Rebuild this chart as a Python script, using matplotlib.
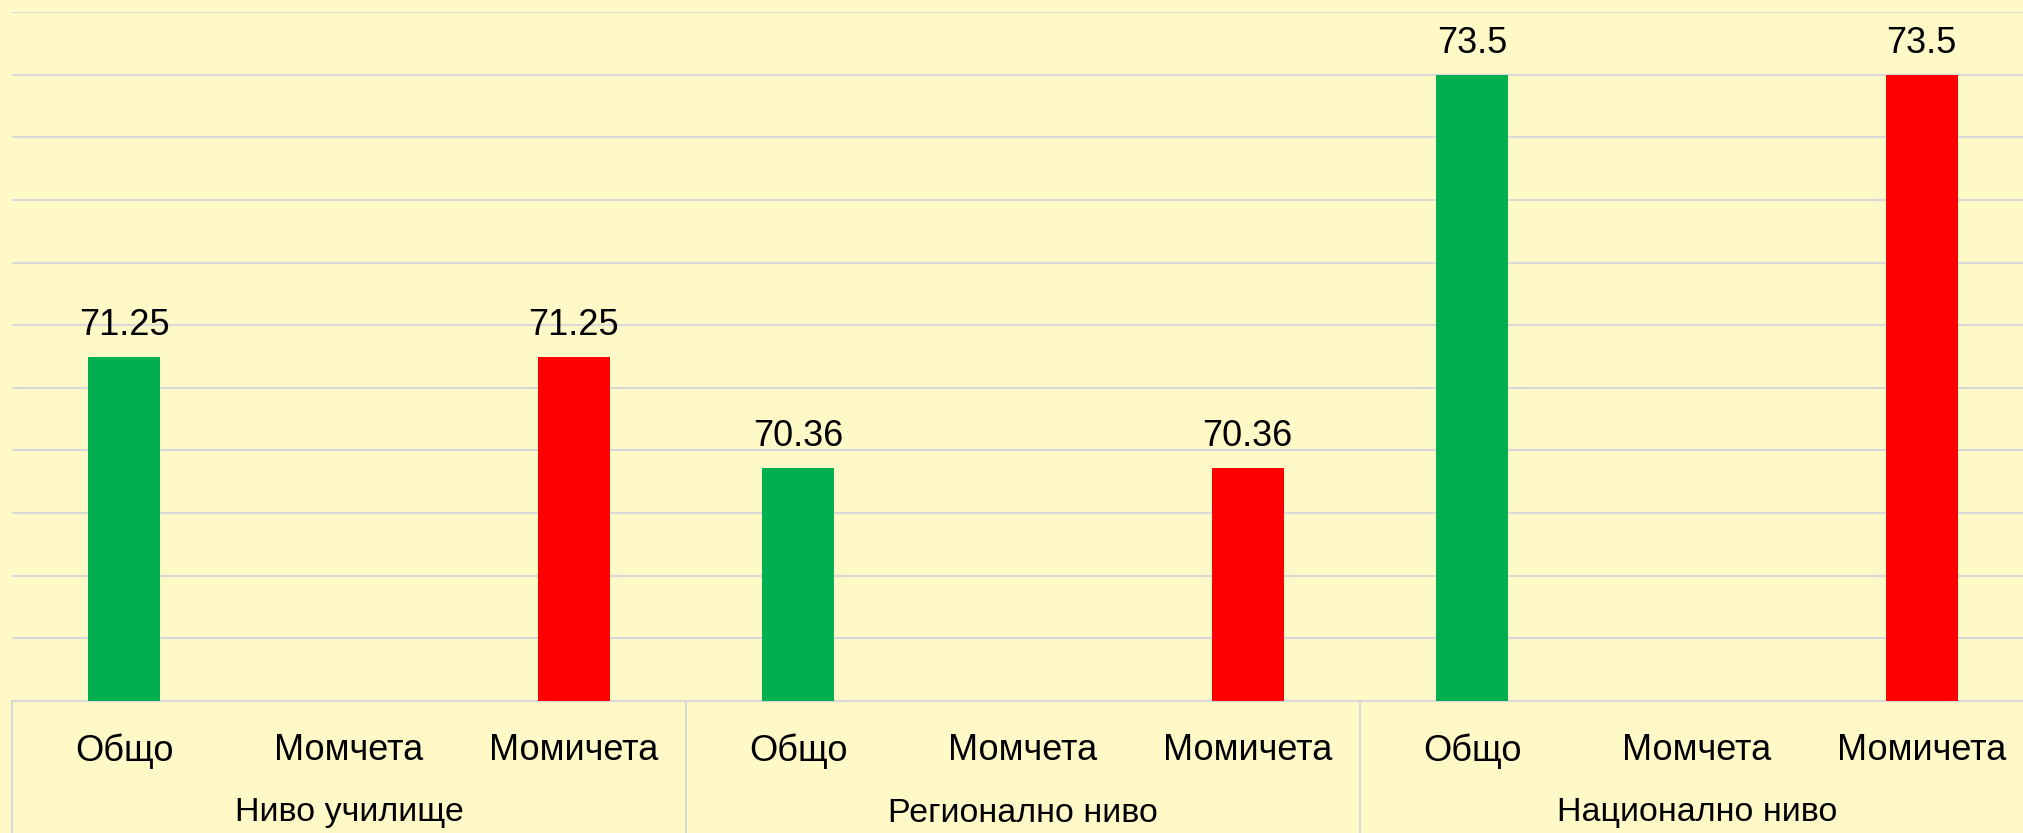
import matplotlib
matplotlib.use("Agg")
import matplotlib.pyplot as plt
import matplotlib.transforms as mtransforms
from matplotlib.lines import Line2D
import numpy as np

groups = ["Ниво училище", "Регионално ниво", "Национално ниво"]
subcats = ["Общо", "Момчета", "Момичета"]
obshto = [71.25, 70.36, 73.5]
momcheta = [np.nan, np.nan, np.nan]
momicheta = [71.25, 70.36, 73.5]
sub_colors = ["#00B050", "#4472C4", "#FF0000"]

plt.rcParams['font.family'] = ['Liberation Sans', 'DejaVu Sans']

W, H = 2024, 833
fig = plt.figure(figsize=(W / 100, H / 100), dpi=100)
bg = "#FFF9C8"
fig.patch.set_facecolor(bg)

left, right, top, base = 12, 2034, 12, 701
ax = fig.add_axes([left / W, (H - base) / H, (right - left) / W, (base - top) / H])
ax.set_facecolor(bg)

values, labels, colors = [], [], []
for g in range(len(groups)):
    for s, series in enumerate([obshto, momcheta, momicheta]):
        values.append(series[g])
        labels.append(subcats[s])
        colors.append(sub_colors[s])
x = np.arange(len(values))
ax.bar(x, values, width=0.32, color=colors, zorder=3)

for xi, v in zip(x, values):
    if not np.isnan(v):
        ax.annotate(f"{v:g}", (xi, v), xytext=(0, 10), textcoords="offset points",
                    ha="center", va="bottom", fontsize=26, color="black", zorder=4)

ax.set_xlim(-0.5, len(values) - 0.5)
ax.set_ylim(68.5, 74)
ax.set_yticks(np.arange(68.5, 74.01, 0.5))
ax.yaxis.set_ticklabels([])
ax.tick_params(axis="y", length=0)
ax.grid(axis="y", color="#D9D9D9", linewidth=1.5, zorder=0)
ax.set_axisbelow(True)
for sp in ["top", "right", "left"]:
    ax.spines[sp].set_visible(False)
ax.spines["bottom"].set_color("#D9D9D9")
ax.spines["bottom"].set_linewidth(1.5)

ax.set_xticks(x)
ax.set_xticklabels(labels, fontsize=26)
ax.tick_params(axis="x", length=0, pad=23)

trans = mtransforms.blended_transform_factory(ax.transData, ax.transAxes)
px = 1 / (base - top)
for g, name in enumerate(groups):
    ax.text(g * 3 + 1, -112 * px, name, transform=trans, ha="center", va="center", fontsize=24.5)
for b in range(len(groups) + 1):
    xb = b * 3 - 0.5
    ax.add_line(Line2D([xb, xb], [0, -200 * px], transform=trans, color="#D9D9D9",
                       linewidth=1.5, clip_on=False))

fig.savefig("out.png", dpi=100, facecolor=bg)
